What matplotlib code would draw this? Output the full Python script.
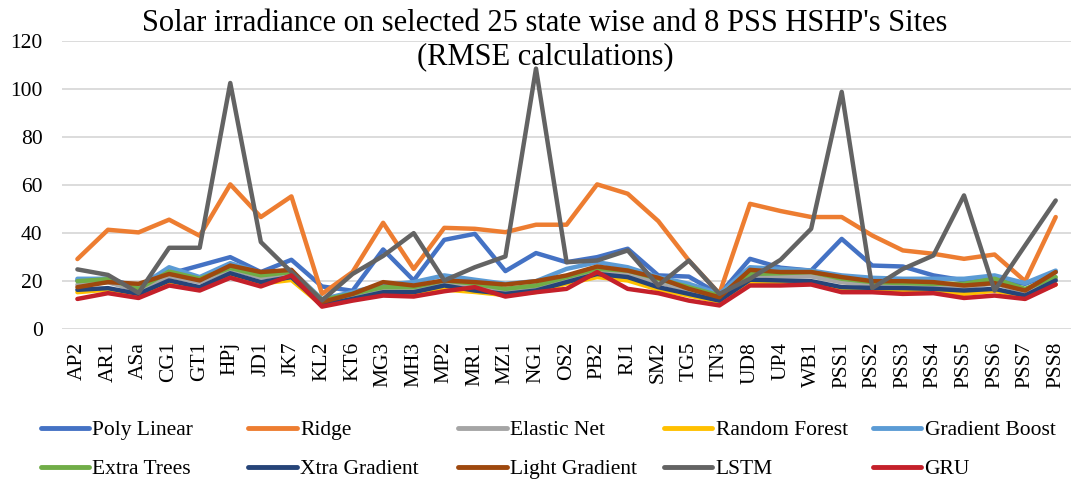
import matplotlib
matplotlib.use("Agg")
import matplotlib.pyplot as plt
import numpy as np

sites = ["AP2", "AR1", "ASa", "CG1", "GT1", "HPj", "JD1", "JK7", "KL2", "KT6",
         "MG3", "MH3", "MP2", "MR1", "MZ1", "NG1", "OS2", "PB2", "RJ1", "SM2",
         "TG5", "TN3", "UD8", "UP4", "WB1", "PSS1", "PSS2", "PSS3", "PSS4",
         "PSS5", "PSS6", "PSS7", "PSS8"]

poly_linear = [20.3, 21.0, 17.5, 23.0, 26.5, 30.0, 23.8, 28.9, 17.8, 16.0, 33.2,
               20.3, 37.2, 39.7, 24.2, 31.7, 27.9, 30.0, 33.5, 22.4, 21.9, 14.5,
               29.3, 25.6, 24.4, 37.6, 26.5, 26.1, 22.4, 20.3, 21.0, 18.9, 23.8]
ridge = [29.2, 41.4, 40.3, 45.6, 38.9, 60.3, 46.7, 55.3, 14.7, 23.8, 44.3,
         25.1, 42.2, 41.8, 40.4, 43.5, 43.5, 60.3, 56.4, 45.0, 28.6, 14.8,
         52.2, 49.2, 46.7, 46.7, 39.0, 32.8, 31.4, 29.3, 31.1, 20.0, 46.7]
elastic_net = [18.5, 19.5, 16.0, 22.0, 19.5, 25.0, 21.5, 23.0, 11.5, 14.0, 17.0,
               17.0, 19.5, 18.0, 16.0, 17.5, 21.0, 24.5, 23.0, 19.5, 16.0, 13.0,
               22.5, 22.0, 22.0, 19.5, 18.5, 18.5, 18.0, 17.5, 19.0, 15.5, 21.0]
random_forest = [15.4, 16.5, 14.2, 19.5, 17.0, 22.5, 19.0, 20.5, 10.0, 12.3, 15.0,
                 14.5, 16.5, 15.5, 14.2, 15.5, 19.0, 21.7, 20.3, 16.5, 14.0, 11.5,
                 19.8, 19.5, 19.2, 16.8, 15.8, 16.3, 16.0, 14.7, 16.0, 13.5, 18.6]
gradient_boost = [21.0, 21.0, 17.5, 25.8, 21.7, 27.5, 23.5, 24.5, 12.5, 15.5, 18.5,
                  19.6, 22.4, 20.6, 18.9, 20.0, 25.1, 27.9, 25.8, 21.7, 18.9, 14.7,
                  25.8, 25.1, 24.4, 22.4, 21.4, 21.0, 21.0, 21.0, 22.4, 19.2, 24.4]
extra_trees = [20.0, 20.8, 16.8, 24.0, 21.0, 25.5, 22.4, 23.8, 12.2, 14.7, 17.5,
               17.5, 20.3, 18.9, 16.8, 18.2, 21.7, 25.1, 24.4, 21.0, 17.5, 14.0,
               23.0, 23.3, 23.8, 21.0, 19.6, 19.2, 18.9, 18.9, 21.0, 16.8, 21.7]
xtra_gradient = [16.4, 17.1, 14.7, 20.3, 17.5, 23.3, 19.6, 21.7, 10.1, 12.6, 15.4,
                 15.4, 18.2, 16.1, 14.7, 16.1, 19.6, 23.0, 21.7, 17.5, 14.7, 11.9,
                 20.6, 20.3, 20.0, 17.5, 17.2, 17.1, 16.8, 16.1, 16.8, 14.0, 20.3]
light_gradient = [17.5, 19.6, 18.9, 23.0, 20.3, 26.5, 23.8, 24.7, 11.3, 14.7, 19.6,
                  18.2, 20.3, 19.6, 18.6, 20.0, 22.4, 26.1, 24.4, 21.4, 16.8, 13.3,
                  24.7, 23.8, 23.8, 21.7, 20.0, 20.0, 19.6, 18.2, 19.2, 16.1, 23.8]
lstm = [24.9, 22.6, 15.1, 33.9, 33.9, 102.5, 36.3, 23.8, 12.0, 23.0, 30.5,
        40.0, 20.3, 25.8, 30.3, 108.5, 27.9, 28.6, 32.8, 18.2, 28.6, 14.7,
        21.0, 28.9, 41.8, 98.8, 17.1, 25.1, 30.7, 55.7, 16.1, 34.9, 53.6]
gru = [12.6, 15.0, 13.0, 18.2, 16.1, 21.4, 17.8, 22.4, 9.4, 11.9, 14.0,
       13.6, 15.8, 17.5, 13.6, 15.4, 16.8, 23.8, 16.8, 15.0, 11.9, 9.9,
       18.2, 18.2, 18.6, 15.4, 15.4, 14.7, 15.0, 13.0, 14.0, 12.6, 18.6]

series_names = ["Poly Linear", "Ridge", "Elastic Net", "Random Forest",
                "Gradient Boost", "Extra Trees", "Xtra Gradient",
                "Light Gradient", "LSTM", "GRU"]
series_values = [poly_linear, ridge, elastic_net, random_forest, gradient_boost,
                 extra_trees, xtra_gradient, light_gradient, lstm, gru]
colors = ["#4472C4", "#ED7D31", "#A5A5A5", "#FFC000", "#5B9BD5",
          "#70AD47", "#264478", "#9E480E", "#636363", "#C4202A"]

y_ticks = [0, 20, 40, 60, 80, 100, 120]

plt.rcParams["font.family"] = ["Liberation Serif", "DejaVu Serif"]

fig = plt.figure(figsize=(10.71, 4.82), dpi=100)
ax = fig.add_axes([0.058, 0.317, 0.942, 0.598])

x = np.arange(len(sites))
lines = []
for name, vals, c in zip(series_names, series_values, colors):
    ln, = ax.plot(x, vals, color=c, lw=3.2, label=name,
                  solid_joinstyle="round", solid_capstyle="round")
    lines.append(ln)

ax.set_xlim(-0.5, len(sites) - 0.5)
ax.set_ylim(0, 120)
ax.set_yticks(y_ticks)
ax.set_yticklabels([str(t) for t in y_ticks], fontsize=15.5)
ax.set_xticks(x)
ax.set_xticklabels(sites, rotation=90, fontsize=15.5)
ax.tick_params(axis="y", length=0, pad=14)
ax.tick_params(axis="x", length=0, pad=9)
ax.grid(axis="y", color="#D9D9D9", lw=1.3)
ax.set_axisbelow(True)
for s in ax.spines.values():
    s.set_visible(False)

fig.text(0.509, 0.982, "Solar irradiance on selected 25 state wise and 8 PSS HSHP's Sites\n(RMSE calculations)",
         ha="center", va="top", fontsize=22, linespacing=1.2)

# legend: 5 evenly spaced columns, two entries each (row-wise order)
ncol = 5
col_x = [0.038, 0.232, 0.428, 0.620, 0.815]
for c in range(ncol):
    idx = [c, c + ncol]
    leg = fig.legend([lines[i] for i in idx], [series_names[i] for i in idx],
                     loc="upper left", bbox_to_anchor=(col_x[c], 0.128),
                     frameon=False, fontsize=15.5, handlelength=2.25,
                     handletextpad=0.15, labelspacing=0.88,
                     borderpad=0, borderaxespad=0)
    for h in leg.get_lines():
        h.set_linewidth(3.5)
        h.set_solid_capstyle("round")

fig.savefig("out.png", dpi=100)
